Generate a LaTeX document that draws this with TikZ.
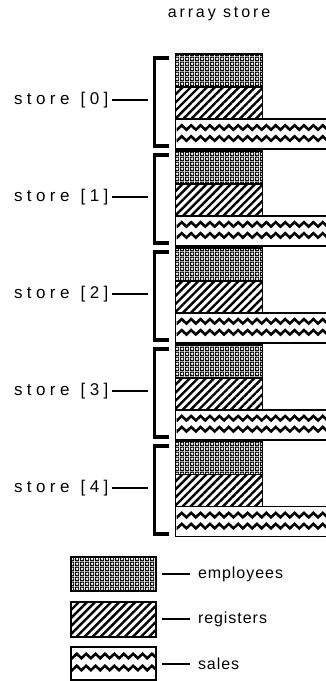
\documentclass[tikz,border=0pt]{standalone}
\usepackage{fontspec}
\setmainfont{Liberation Sans}
\newfontfamily\titlefont[LetterSpace=18]{Liberation Sans}
\newfontfamily\lblfont[LetterSpace=26]{Liberation Sans}
\newfontfamily\legfont[LetterSpace=6]{Liberation Sans}
\usetikzlibrary{patterns,patterns.meta,decorations.pathmorphing}
\tikzdeclarepattern{
  name=empdots,
  type=uncolored,
  bounding box={(0pt,0pt) and (5pt,5pt)},
  tile size={(5pt,5pt)},
  code={
    \fill[even odd rule] (0pt,0pt) rectangle (5pt,5pt) (2.5pt,2.5pt) circle (2pt);
  }
}
\tikzset{
  lbl/.style={font=\lblfont\fontsize{17}{19}\selectfont, inner sep=0pt, outer sep=3.5pt, anchor=west},
  leg/.style={font=\legfont\fontsize{16}{18}\selectfont, inner sep=0pt, outer sep=0pt, anchor=west},
  boxline/.style={draw=black, line width=1.6pt},
  empbox/.style={boxline, pattern=empdots},
  regbox/.style={boxline, pattern={Lines[angle=45, distance=5.7pt, line width=2.4pt]}},
  salebox/.style={boxline, fill=white},
  wave/.style={line width=2.6pt, decorate, decoration={zigzag, segment length=9.4pt, amplitude=2.2pt}},
  conn/.style={line width=1.8pt},
  brk/.style={line width=2.6pt},
  serif/.style={fill=black},
}
\begin{document}
\begin{tikzpicture}[x=1pt, y=-1pt]
\useasboundingbox (0,0) rectangle (326,681);
\node[font=\titlefont\fontsize{16}{18}\selectfont, inner sep=0pt] (title) at (219,14) {array store};
\foreach \i in {0,...,4} {
  \pgfmathsetmacro{\T}{54+96.9*\i}
  % boxes
  \path[empbox] (175.5,\T) rectangle (262.5,\T+33);
  \path[regbox] (175.5,\T+33) rectangle (262.5,\T+65);
  \path[salebox] (175.5,\T+65) rectangle (330,\T+95);
  \begin{scope}
    \clip (176.5,\T+66) rectangle (330,\T+94);
    \draw[wave] (170,\T+73.5) -- (340,\T+73.5);
    \draw[wave] (170,\T+84.5) -- (340,\T+84.5);
  \end{scope}
  % bracket
  \draw[brk] (154.5,\T+2) -- (154.5,\T+94);
  \fill[serif] (153.2,\T+2) rectangle (168.5,\T+6);
  \fill[serif] (153.2,\T+90) rectangle (168.5,\T+94);
  % label and connector
  \node[lbl] (lbl\i) at (10.5,\T+46) {store\hspace{2pt} [\i]};
  \coordinate (br\i) at (148,\T+46);
  \draw[conn] (lbl\i) -- (br\i);
}
% legend
\path[empbox] (71,557) rectangle (156,591);
\path[regbox] (71,602) rectangle (156,637);
\path[salebox] (71,647) rectangle (156,680);
\begin{scope}
  \clip (72,648) rectangle (155,679);
  \draw[wave] (65,656) -- (165,656);
  \draw[wave] (65,668) -- (165,668);
\end{scope}
\coordinate (le) at (162,574);
\coordinate (lr) at (162,619);
\coordinate (ls) at (162,664);
\node[leg] (temp) at (198,574) {employees};
\node[leg] (treg) at (198,619) {registers};
\node[leg] (tsal) at (198,664) {sales};
\draw[conn] (le) -- ([xshift=-8pt]temp.west);
\draw[conn] (lr) -- ([xshift=-8pt]treg.west);
\draw[conn] (ls) -- ([xshift=-8pt]tsal.west);
\end{tikzpicture}
\end{document}
